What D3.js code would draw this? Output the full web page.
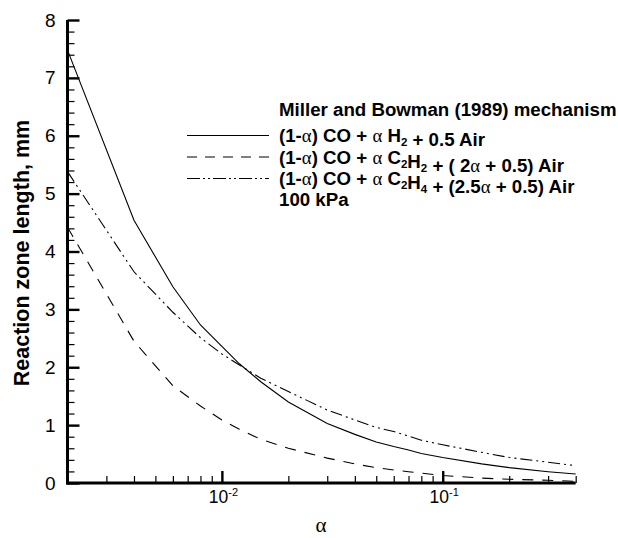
<!DOCTYPE html>
<html>
<head>
<meta charset="utf-8">
<script src="https://cdn.jsdelivr.net/npm/d3@7"></script>
<style>
  html, body { margin: 0; padding: 0; background: #fff; }
  svg { display: block; }
  text { font-family: "Liberation Sans", Arial, sans-serif; fill: #000; }
</style>
</head>
<body>
<svg id="chart" width="618" height="538"></svg>
<script>
// ---- data ----
const alpha = [0.002, 0.004, 0.006, 0.008, 0.01, 0.012, 0.015, 0.02, 0.03, 0.04, 0.05, 0.06, 0.07, 0.08, 0.1, 0.15, 0.2, 0.3, 0.4];
const h2   = [7.48, 4.54, 3.39, 2.73, 2.36, 2.06, 1.75, 1.40, 1.03, 0.84, 0.71, 0.63, 0.57, 0.51, 0.44, 0.33, 0.265, 0.195, 0.155];
const c2h2 = [4.42, 2.45, 1.68, 1.33, 1.09, 0.93, 0.755, 0.60, 0.43, 0.33, 0.265, 0.225, 0.195, 0.17, 0.13, 0.085, 0.064, 0.047, 0.03];
const c2h4 = [5.38, 3.65, 2.95, 2.51, 2.23, 2.04, 1.81, 1.58, 1.26, 1.09, 0.96, 0.89, 0.81, 0.74, 0.66, 0.53, 0.44, 0.36, 0.30];
const yMajorTicks = [0, 1, 2, 3, 4, 5, 6, 7, 8];
const xMajorTicks = [0.01, 0.1];
const xMajorLabels = [["10", "-2"], ["10", "-1"]];
const xMinorTicks = [0.003, 0.004, 0.005, 0.006, 0.007, 0.008, 0.009, 0.02, 0.03, 0.04, 0.05, 0.06, 0.07, 0.08, 0.09, 0.2, 0.3, 0.4];
const legendTitle = "Miller and Bowman (1989) mechanism";
const legendFooter = "100 kPa";
const yTitle = "Reaction zone length, mm";
const xTitle = "α";

// ---- layout ----
const svg = d3.select("#chart");
const L = 67.5, R = 575.7, T = 20, B = 483;
const x = d3.scaleLog().domain([0.002, 0.4]).range([L, R]);
const y = d3.scaleLinear().domain([0, 8]).range([B, T]);

// y axis: major + minor ticks (inward)
const yMinor = d3.range(0, 8.0001, 0.2).filter(v => Math.abs(v - Math.round(v)) > 1e-6);
const gyMinor = svg.append("g").attr("transform", `translate(${L},0)`)
  .call(d3.axisLeft(y).tickValues(yMinor).tickSizeInner(-7).tickSizeOuter(0).tickFormat(""));
gyMinor.select(".domain").remove();
gyMinor.selectAll(".tick line").attr("stroke", "#000").attr("stroke-width", 1.2);

const gy = svg.append("g").attr("transform", `translate(${L},0)`)
  .call(d3.axisLeft(y).tickValues(yMajorTicks).tickSizeInner(-12).tickSizeOuter(0).tickPadding(12).tickFormat(d3.format("d")));
gy.select(".domain").remove();
gy.selectAll(".tick line").attr("stroke", "#000").attr("stroke-width", 2.4);
gy.selectAll(".tick text").style("font-family", "'Liberation Sans', Arial, sans-serif").style("font-size", "19px").attr("fill", "#000");

// x axis: minor + major (inward)
const gxMinor = svg.append("g").attr("transform", `translate(0,${B})`)
  .call(d3.axisBottom(x).tickValues(xMinorTicks).tickSizeInner(-7).tickSizeOuter(0).tickFormat(""));
gxMinor.select(".domain").remove();
gxMinor.selectAll(".tick line").attr("stroke", "#000").attr("stroke-width", 1.2);

const gx = svg.append("g").attr("transform", `translate(0,${B})`)
  .call(d3.axisBottom(x).tickValues(xMajorTicks).tickSizeInner(-12).tickSizeOuter(0).tickFormat(""));
gx.select(".domain").remove();
gx.selectAll(".tick line").attr("stroke", "#000").attr("stroke-width", 2.4);
gx.selectAll(".tick text").each(function(d, i) {
  const t = d3.select(this).attr("y", 20).attr("dy", 0)
    .style("font-family", "'Liberation Sans', Arial, sans-serif").style("font-size", "17.5px")
    .attr("text-anchor", "middle").attr("fill", "#000").attr("x", 1);
  t.append("tspan").text(xMajorLabels[i][0]);
  t.append("tspan").attr("dy", -7).style("font-size", "11px").text(xMajorLabels[i][1]);
});

// axis lines (thick)
svg.append("line").attr("x1", L).attr("x2", L).attr("y1", T).attr("y2", B + 1.5)
  .attr("stroke", "#000").attr("stroke-width", 3);
svg.append("line").attr("x1", L - 1.5).attr("x2", R).attr("y1", B).attr("y2", B)
  .attr("stroke", "#000").attr("stroke-width", 3);

// titles
svg.append("text").attr("transform", "translate(29,253) rotate(-90)")
  .attr("text-anchor", "middle").style("font-size", "21.5px").style("font-weight", "bold").text(yTitle);
svg.append("text").attr("x", 321).attr("y", 532).attr("text-anchor", "middle")
  .style("font-family", "'Liberation Serif', 'DejaVu Serif', serif").style("font-size", "21px").text(xTitle);

// series
const styles = [
  { data: h2, dash: null },
  { data: c2h2, dash: "11,9" },
  { data: c2h4, dash: "12,4,2,4,2,4" }
];
const line = d3.line().x(d => x(d[0])).y(d => y(d[1])).curve(d3.curveLinear);
styles.forEach(s => {
  svg.append("path")
    .datum(alpha.map((a, i) => [a, s.data[i]]))
    .attr("d", line)
    .attr("fill", "none").attr("stroke", "#000").attr("stroke-width", 1.1)
    .attr("stroke-dasharray", s.dash);
});

// legend
const lx = 279;
const legendRows = [142, 163.5, 185];
const legSamples = [null, "10,8", "13,3,2,3,2,3"];
function alphaSpan(t, txt) {
  t.append("tspan").style("font-family", "'Liberation Serif', 'DejaVu Serif', serif").style("font-weight", "normal").text(txt);
}
function sub(t, txt) {
  t.append("tspan").attr("dy", 4).style("font-size", "11.5px").text(txt);
  t.append("tspan").attr("dy", -4).text("");
}
const lg = svg.append("g").style("font-size", "18.7px").style("font-weight", "bold");
lg.append("text").attr("x", lx).attr("y", 116).text(legendTitle);

// row 1
let t = lg.append("text").attr("x", lx).attr("y", legendRows[0]);
t.append("tspan").text("(1-"); alphaSpan(t, "α"); t.append("tspan").text(") CO + ");
alphaSpan(t, "α"); t.append("tspan").text(" H"); sub(t, "2"); t.append("tspan").text(" + 0.5 Air");
// row 2
t = lg.append("text").attr("x", lx).attr("y", legendRows[1]);
t.append("tspan").text("(1-"); alphaSpan(t, "α"); t.append("tspan").text(") CO + ");
alphaSpan(t, "α"); t.append("tspan").text(" C"); sub(t, "2"); t.append("tspan").text("H"); sub(t, "2");
t.append("tspan").text(" + ( 2"); alphaSpan(t, "α"); t.append("tspan").text(" + 0.5) Air");
// row 3
t = lg.append("text").attr("x", lx).attr("y", legendRows[2]);
t.append("tspan").text("(1-"); alphaSpan(t, "α"); t.append("tspan").text(") CO + ");
alphaSpan(t, "α"); t.append("tspan").text(" C"); sub(t, "2"); t.append("tspan").text("H"); sub(t, "4");
t.append("tspan").text(" + (2.5"); alphaSpan(t, "α"); t.append("tspan").text(" + 0.5) Air");

lg.append("text").attr("x", lx).attr("y", 206).text(legendFooter);

legendRows.forEach((ry, i) => {
  svg.append("line").attr("x1", 187).attr("x2", 269).attr("y1", ry - 6.5).attr("y2", ry - 6.5)
    .attr("stroke", "#000").attr("stroke-width", 1.2).attr("stroke-dasharray", legSamples[i]);
});
</script>
</body>
</html>
